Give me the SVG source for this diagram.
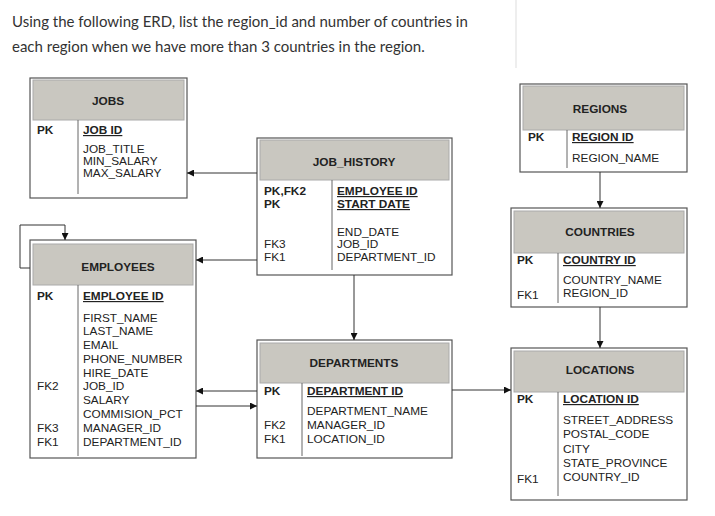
<svg xmlns="http://www.w3.org/2000/svg" width="715" height="516" viewBox="0 0 715 516">
<style>
.q{font-family:Lato,"Liberation Sans",sans-serif;font-size:15px;fill:#333}
.box{fill:#fff;stroke:#555;stroke-width:1.2}
.hd{fill:#c9c7c0;stroke:#aaa;stroke-width:1}
.t{font-family:"Liberation Sans",Arial,sans-serif;font-size:11.8px;fill:#222}
.b{font-weight:bold}
.c{text-anchor:middle}
.u{text-decoration:underline}
.v{stroke:#666;stroke-width:1}
.cn{stroke:#333;stroke-width:1;fill:none;marker-end:url(#a)}
</style>
<defs><marker id="a" viewBox="0 0 10 10" refX="10" refY="5" markerWidth="7" markerHeight="7" orient="auto" markerUnits="userSpaceOnUse"><path d="M0,0L10,5L0,10z" fill="#111"/></marker></defs>
<rect width="715" height="516" fill="#fff"/>
<text class="q" x="12" y="27">Using the following ERD, list the region_id and number of countries in</text>
<text class="q" x="12" y="52">each region when we have more than 3 countries in the region.</text>
<line x1="516" y1="0" x2="516" y2="68" stroke="#ddd"/>

<g id="jobs">
<rect class="box" x="30" y="78" width="157" height="120"/>
<rect class="hd" x="33" y="80" width="151" height="40"/>
<text class="t b c" x="108" y="105">JOBS</text>
<line class="v" x1="78" y1="120" x2="78" y2="194"/>
<text class="t b" x="37" y="134">PK</text>
<text class="t b u" x="83" y="134">JOB ID</text>
<text class="t" x="83" y="153">JOB_TITLE</text>
<text class="t" x="83" y="165">MIN_SALARY</text>
<text class="t" x="83" y="177">MAX_SALARY</text>
</g>

<g id="job_history">
<rect class="box" x="257" y="138" width="195" height="137"/>
<rect class="hd" x="260" y="140" width="189" height="40"/>
<text class="t b c" x="354" y="166">JOB_HISTORY</text>
<line class="v" x1="332" y1="180" x2="332" y2="270"/>
<text class="t b" x="264" y="195">PK,FK2</text>
<text class="t b" x="264" y="208">PK</text>
<text class="t b u" x="337" y="195">EMPLOYEE ID</text>
<text class="t b u" x="337" y="208">START DATE</text>
<text class="t" x="337" y="236">END_DATE</text>
<text class="t" x="337" y="248">JOB_ID</text>
<text class="t" x="337" y="261">DEPARTMENT_ID</text>
<text class="t" x="264" y="248">FK3</text>
<text class="t" x="264" y="261">FK1</text>
</g>

<g id="employees">
<rect class="box" x="30" y="240" width="166" height="218"/>
<rect class="hd" x="33" y="244" width="160" height="41"/>
<text class="t b c" x="118" y="271">EMPLOYEES</text>
<line class="v" x1="78" y1="285" x2="78" y2="456"/>
<text class="t b" x="37" y="300">PK</text>
<text class="t b u" x="83" y="300">EMPLOYEE ID</text>
<text class="t" x="83" y="322">FIRST_NAME</text>
<text class="t" x="83" y="335">LAST_NAME</text>
<text class="t" x="83" y="349">EMAIL</text>
<text class="t" x="83" y="363">PHONE_NUMBER</text>
<text class="t" x="83" y="377">HIRE_DATE</text>
<text class="t" x="83" y="390">JOB_ID</text>
<text class="t" x="83" y="404">SALARY</text>
<text class="t" x="83" y="418">COMMISION_PCT</text>
<text class="t" x="83" y="432">MANAGER_ID</text>
<text class="t" x="83" y="446">DEPARTMENT_ID</text>
<text class="t" x="37" y="390">FK2</text>
<text class="t" x="37" y="432">FK3</text>
<text class="t" x="37" y="446">FK1</text>
</g>

<g id="departments">
<rect class="box" x="257" y="340" width="195" height="118"/>
<rect class="hd" x="260" y="343" width="189" height="40"/>
<text class="t b c" x="354" y="367">DEPARTMENTS</text>
<line class="v" x1="302" y1="383" x2="302" y2="456"/>
<text class="t b" x="264" y="395">PK</text>
<text class="t b u" x="307" y="395">DEPARTMENT ID</text>
<text class="t" x="307" y="415">DEPARTMENT_NAME</text>
<text class="t" x="307" y="429">MANAGER_ID</text>
<text class="t" x="307" y="443">LOCATION_ID</text>
<text class="t" x="264" y="429">FK2</text>
<text class="t" x="264" y="443">FK1</text>
</g>

<g id="regions">
<rect class="box" x="520" y="84" width="167" height="88"/>
<rect class="hd" x="523" y="86" width="161" height="44"/>
<text class="t b c" x="600" y="113">REGIONS</text>
<line class="v" x1="567" y1="130" x2="567" y2="168"/>
<text class="t b" x="528" y="141">PK</text>
<text class="t b u" x="572" y="141">REGION ID</text>
<text class="t" x="572" y="162">REGION_NAME</text>
</g>

<g id="countries">
<rect class="box" x="511" y="208" width="176" height="99"/>
<rect class="hd" x="514" y="211" width="170" height="42"/>
<text class="t b c" x="600" y="236">COUNTRIES</text>
<line class="v" x1="558" y1="253" x2="558" y2="303"/>
<text class="t b" x="517" y="264">PK</text>
<text class="t b u" x="563" y="264">COUNTRY ID</text>
<text class="t" x="563" y="284">COUNTRY_NAME</text>
<text class="t" x="563" y="297">REGION_ID</text>
<text class="t" x="517" y="299">FK1</text>
</g>

<g id="locations">
<rect class="box" x="511" y="348" width="176" height="152"/>
<rect class="hd" x="514" y="351" width="170" height="41"/>
<text class="t b c" x="600" y="374">LOCATIONS</text>
<line class="v" x1="558" y1="392" x2="558" y2="496"/>
<text class="t b" x="517" y="403">PK</text>
<text class="t b u" x="563" y="403">LOCATION ID</text>
<text class="t" x="563" y="424">STREET_ADDRESS</text>
<text class="t" x="563" y="438">POSTAL_CODE</text>
<text class="t" x="563" y="453">CITY</text>
<text class="t" x="563" y="467">STATE_PROVINCE</text>
<text class="t" x="563" y="481">COUNTRY_ID</text>
<text class="t" x="517" y="483">FK1</text>
</g>

<g id="connectors">
<path class="cn" d="M257,173H187"/>
<path class="cn" d="M257,260H196"/>
<path class="cn" d="M30,268H20V225H65V240"/>
<path class="cn" d="M354,275V340"/>
<path class="cn" d="M257,391H196"/>
<path class="cn" d="M196,406H257"/>
<path class="cn" d="M452,390H511"/>
<path class="cn" d="M600,172V208"/>
<path class="cn" d="M600,307V348"/>
</g>
</svg>
